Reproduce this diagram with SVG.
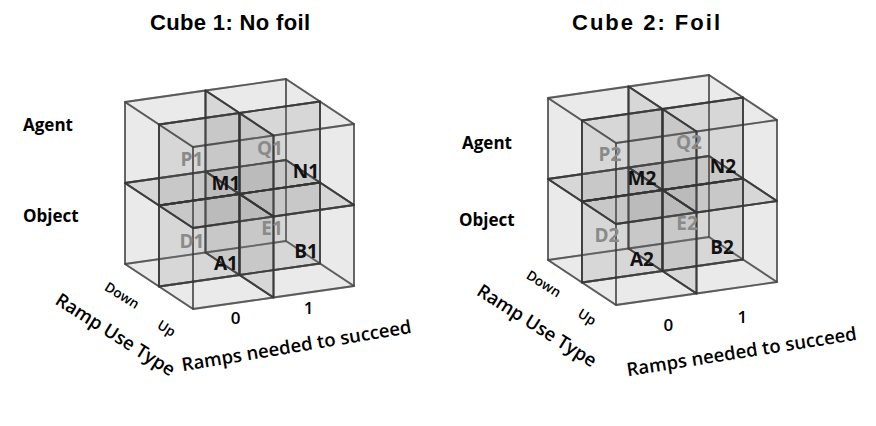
<svg xmlns="http://www.w3.org/2000/svg" xmlns:xlink="http://www.w3.org/1999/xlink" width="876" height="426" viewBox="0 0 876 426">
<style>
.f{fill:#7a7a7a;fill-opacity:0.085;stroke:#333;stroke-opacity:0.55;stroke-width:1.8;stroke-linejoin:round}
.title{font-family:"Liberation Sans",Arial,sans-serif;font-weight:700;font-size:22px;fill:#000}
.row{font-family:"Open Sans","Noto Sans",sans-serif;font-weight:700;font-size:17px;fill:#000}
.lb{font-family:"Open Sans","Noto Sans",sans-serif;font-weight:700;font-size:19px;text-anchor:middle}
.dk{fill:#111}
.lt{fill:#8a8a8a}
.ax{font-family:"Open Sans","Noto Sans",sans-serif;font-weight:600;fill:#000;text-anchor:middle}
.big{font-size:18.5px}
.sm{font-size:13.5px}
.num{font-size:17px}
</style>
<defs>
<g id="cell">
<polygon class="f" points="0,0 80.5,-11.5 80.5,69.5 0,81"/>
<polygon class="f" points="0,0 34,22.5 34,103.5 0,81"/>
<polygon class="f" points="0,0 80.5,-11.5 114.5,11 34,22.5"/>
<polygon class="f" points="0,81 80.5,69.5 114.5,92 34,103.5"/>
<polygon class="f" points="80.5,-11.5 114.5,11 114.5,92 80.5,69.5"/>
<polygon class="f" points="34,22.5 114.5,11 114.5,92 34,103.5"/>
</g>
</defs>

<g id="cube1">
<text class="title" x="150" y="30" textLength="160" lengthAdjust="spacing">Cube 1: No foil</text>
<g id="cube1-cells">
<use xlink:href="#cell" href="#cell" x="125" y="102"/>
<use xlink:href="#cell" href="#cell" x="205.5" y="90.5"/>
<use xlink:href="#cell" href="#cell" x="125" y="183"/>
<use xlink:href="#cell" href="#cell" x="205.5" y="171.5"/>
<use xlink:href="#cell" href="#cell" x="159" y="124.5"/>
<use xlink:href="#cell" href="#cell" x="239.5" y="113"/>
<use xlink:href="#cell" href="#cell" x="159" y="205.5"/>
<use xlink:href="#cell" href="#cell" x="239.5" y="194"/>
</g>
<g id="P1"><text class="lb lt" x="192" y="165.5">P1</text></g>
<g id="Q1"><text class="lb lt" x="270" y="154.5">Q1</text></g>
<g id="M1"><text class="lb dk" x="226" y="189.5">M1</text></g>
<g id="N1"><text class="lb dk" x="306" y="177.5">N1</text></g>
<g id="D1"><text class="lb lt" x="192" y="247.5">D1</text></g>
<g id="E1"><text class="lb lt" x="272" y="234.5">E1</text></g>
<g id="A1"><text class="lb dk" x="226" y="269.5">A1</text></g>
<g id="B1"><text class="lb dk" x="306" y="257.5">B1</text></g>
<text class="row" x="23" y="131">Agent</text>
<text class="row" x="23" y="222">Object</text>
<text class="ax sm" transform="translate(119.6,299.4) rotate(32)">Down</text>
<text class="ax sm" transform="translate(164,332.4) rotate(32)">Up</text>
<text class="ax big" transform="translate(112,340) rotate(32.4)">Ramp Use Type</text>
<text class="ax num" x="235.7" y="324">0</text>
<text class="ax num" x="308.5" y="314">1</text>
<text class="ax big" transform="translate(297.5,352) rotate(-9.5)">Ramps needed to succeed</text>
</g>

<g id="cube2">
<text class="title" x="572" y="30" textLength="148" lengthAdjust="spacing">Cube 2: Foil</text>
<g id="cube2-cells">
<use xlink:href="#cell" href="#cell" x="548" y="98"/>
<use xlink:href="#cell" href="#cell" x="628.5" y="86.5"/>
<use xlink:href="#cell" href="#cell" x="548" y="179"/>
<use xlink:href="#cell" href="#cell" x="628.5" y="167.5"/>
<use xlink:href="#cell" href="#cell" x="582" y="120.5"/>
<use xlink:href="#cell" href="#cell" x="662.5" y="109"/>
<use xlink:href="#cell" href="#cell" x="582" y="201.5"/>
<use xlink:href="#cell" href="#cell" x="662.5" y="190"/>
</g>
<g id="P2"><text class="lb lt" x="610" y="160.5">P2</text></g>
<g id="Q2"><text class="lb lt" x="689" y="148.5">Q2</text></g>
<g id="M2"><text class="lb dk" x="642" y="184.5">M2</text></g>
<g id="N2"><text class="lb dk" x="723" y="172.5">N2</text></g>
<g id="D2"><text class="lb lt" x="607" y="241.5">D2</text></g>
<g id="E2"><text class="lb lt" x="687" y="229.5">E2</text></g>
<g id="A2"><text class="lb dk" x="642" y="265.5">A2</text></g>
<g id="B2"><text class="lb dk" x="722" y="253.5">B2</text></g>
<text class="row" x="462" y="149">Agent</text>
<text class="row" x="459" y="226">Object</text>
<text class="ax sm" transform="translate(541.2,287.7) rotate(32)">Down</text>
<text class="ax sm" transform="translate(584.6,321) rotate(32)">Up</text>
<text class="ax big" transform="translate(533.5,331) rotate(32.4)">Ramp Use Type</text>
<text class="ax num" x="668.3" y="331">0</text>
<text class="ax num" x="742.3" y="323">1</text>
<text class="ax big" transform="translate(742.5,358) rotate(-9)">Ramps needed to succeed</text>
</g>
</svg>
